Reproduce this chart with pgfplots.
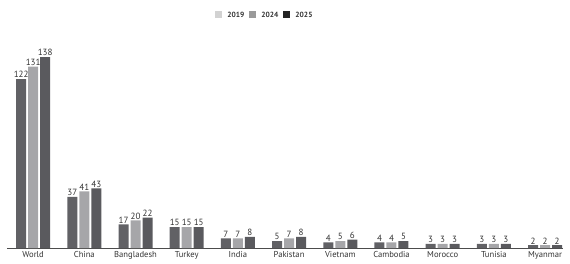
\documentclass[border=0pt]{standalone}
\usepackage{pgfplots}
\pgfplotsset{compat=1.18}
\usepackage{fontspec}
\setmainfont{PT Sans}
\definecolor{cA}{HTML}{616165}
\definecolor{cB}{HTML}{A6A6A9}
\definecolor{cC}{HTML}{5A5A5E}
\definecolor{lA}{HTML}{D2D2D2}
\definecolor{lB}{HTML}{9A9A9A}
\definecolor{lC}{HTML}{232323}
\definecolor{txt}{HTML}{333333}
\begin{document}
\begin{tikzpicture}
\path[use as bounding box] (0,0) rectangle (570pt,263pt);
\begin{axis}[
  at={(7pt,15pt)}, anchor=south west,
  scale only axis, width=556pt, height=207.6pt,
  ymin=0, ymax=150,
  xmin=-0.51, xmax=10.35,
  ybar=2pt, bar width=10pt,
  axis x line=bottom, axis line style={draw=black!70, -},
  hide y axis,
  xtick={0,...,10},
  xticklabels={World,China,Bangladesh,Turkey,India,Pakistan,Vietnam,Cambodia,Morocco,Tunisia,Myanmar},
  major tick length=0pt,
  xticklabel style={font=\fontsize{8.6}{9}\selectfont, text=txt, yshift=0pt},
  /pgf/number format/assume math mode=true,
  nodes near coords,
  every node near coord/.append style={font=\fontsize{9}{9}\selectfont, text=txt, inner sep=1pt},
  legend style={draw=none, at={(0.464,1.122)}, anchor=center, font=\fontsize{7.5}{8}\selectfont\bfseries, text=txt, column sep=3pt},
  legend columns=-1,
  legend image code/.code={\fill[#1] (0pt,-3pt) rectangle (7pt,4pt);},
]
\addplot[fill=cA, draw=none, legend image post style={fill=lA}] coordinates {(0,122) (1,37) (2,17) (3,15) (4,7) (5,5) (6,4) (7,4) (8,3) (9,3) (10,2)};
\addplot[fill=cB, draw=none, legend image post style={fill=lB}] coordinates {(0,131) (1,41) (2,20) (3,15) (4,7) (5,7) (6,5) (7,4) (8,3) (9,3) (10,2)};
\addplot[fill=cC, draw=none, legend image post style={fill=lC}] coordinates {(0,138) (1,43) (2,22) (3,15) (4,8) (5,8) (6,6) (7,5) (8,3) (9,3) (10,2)};
\legend{2019,2024,2025}
\end{axis}
\end{tikzpicture}
\end{document}
